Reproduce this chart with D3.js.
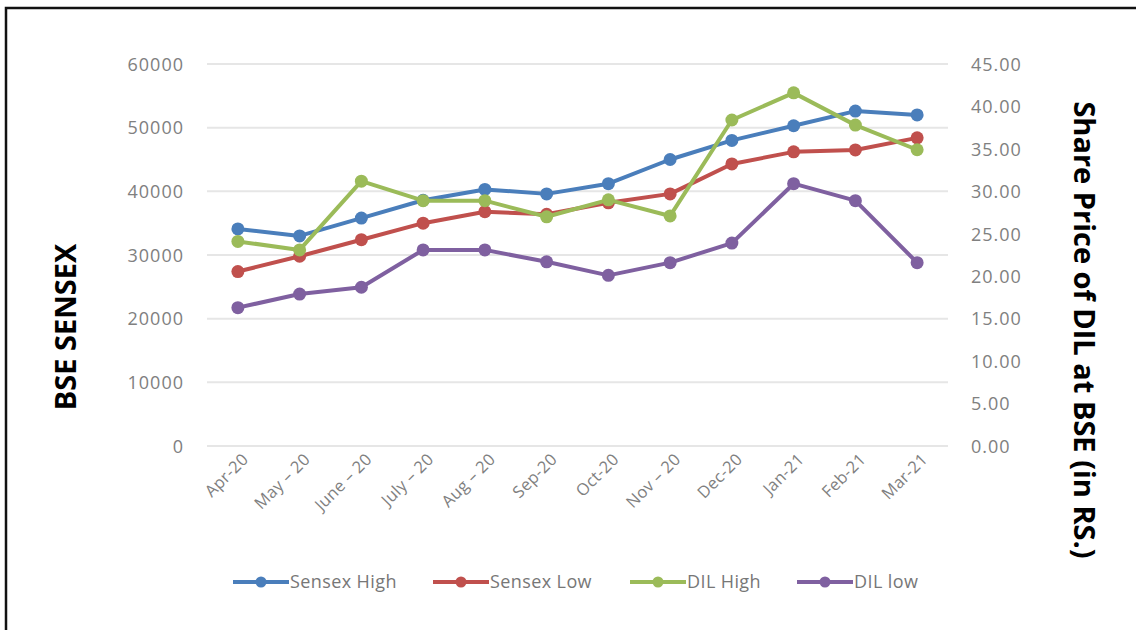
<!DOCTYPE html>
<html><head><meta charset="utf-8">
<script src="https://cdn.jsdelivr.net/npm/d3@7"></script>
<style>
html,body{margin:0;padding:0;background:#fff;}
svg{display:block;}
</style></head>
<body>
<svg id="chart" width="1136" height="630"></svg>
<script>
const months = ["Apr-20","May – 20","June – 20","July – 20","Aug – 20","Sep-20","Oct-20","Nov – 20","Dec-20","Jan-21","Feb-21","Mar-21"];
const sensexHigh = [34100,33000,35800,38600,40300,39600,41200,45000,48000,50300,52600,52000];
const sensexLow  = [27400,29800,32400,35000,36800,36400,38200,39600,44300,46200,46500,48400];
const dilHigh    = [24.1,23.1,31.2,28.9,28.9,27.0,29.0,27.1,38.4,41.6,37.8,34.9];
const dilLow     = [16.3,17.9,18.7,23.1,23.1,21.7,20.1,21.6,23.9,30.9,28.9,21.6];
const leftTicks  = [0,10000,20000,30000,40000,50000,60000];
const rightTicks = [0,5,10,15,20,25,30,35,40,45];
const seriesNames = ["Sensex High","Sensex Low","DIL High","DIL low"];
const colors = ["#4A7EBB","#C0504D","#9BBB59","#7F60A0"];

const svg = d3.select("#chart");
const m = {left:207, right:948, top:64, bottom:446};
const x = d3.scaleBand().domain(months).range([m.left, m.right]);
const yL = d3.scaleLinear().domain([0,60000]).range([m.bottom, m.top]);
const yR = d3.scaleLinear().domain([0,45]).range([m.bottom, m.top]);

// frame
svg.append("path").attr("d","M6,640 L6,8 L1140,8").attr("fill","none").attr("stroke","#111").attr("stroke-width",2.5);

const fontTick = "'Open Sans', sans-serif";
// gridlines
svg.append("g").selectAll("line").data(leftTicks).join("line")
  .attr("x1",m.left).attr("x2",m.right)
  .attr("y1",d=>yL(d)).attr("y2",d=>yL(d))
  .attr("stroke","#e6e6e6").attr("stroke-width",2);

// left axis
const gL = svg.append("g").attr("transform",`translate(${m.left-20},0)`)
  .call(d3.axisLeft(yL).tickValues(leftTicks).tickSize(0).tickFormat(d3.format("d")));
gL.select(".domain").remove();
gL.selectAll("text").attr("fill","#808080").style("font-family",fontTick).style("font-size","18px").style("letter-spacing","1px").attr("dy","0.35em");

// right axis
const gR = svg.append("g").attr("transform",`translate(${m.right+20},0)`)
  .call(d3.axisRight(yR).tickValues(rightTicks).tickSize(0).tickFormat(d3.format(".2f")));
gR.select(".domain").remove();
gR.selectAll("text").attr("fill","#808080").style("font-family",fontTick).style("font-size","18px").style("letter-spacing","1px").attr("dy","0.35em");

// x axis
const gX = svg.append("g").attr("transform",`translate(0,${m.bottom+10})`)
  .call(d3.axisBottom(x).tickSize(0));
gX.select(".domain").remove();
gX.selectAll("text").attr("fill","#808080").style("font-family",fontTick).style("font-size","16.5px").style("letter-spacing","0.3px")
  .attr("text-anchor","end").attr("dx","0.3em").attr("dy","0.5em")
  .attr("transform","rotate(-45)");

// series
const series = [
  {vals:sensexHigh, y:yL},
  {vals:sensexLow, y:yL},
  {vals:dilHigh, y:yR},
  {vals:dilLow, y:yR}
];
series.forEach((s,i)=>{
  const line = d3.line().x((d,j)=>x(months[j])+x.bandwidth()/2).y(d=>s.y(d));
  const g = svg.append("g");
  g.append("path").attr("d",line(s.vals)).attr("fill","none").attr("stroke",colors[i]).attr("stroke-width",4).attr("stroke-linejoin","round");
  g.selectAll("circle").data(s.vals).join("circle")
    .attr("cx",(d,j)=>x(months[j])+x.bandwidth()/2).attr("cy",d=>s.y(d)).attr("r",6.5).attr("fill",colors[i]);
});

// legend
const legX = [233,433,630,797];
const lg = svg.append("g");
seriesNames.forEach((n,i)=>{
  const g = lg.append("g").attr("transform",`translate(${legX[i]},582)`);
  g.append("line").attr("x1",0).attr("x2",56).attr("stroke",colors[i]).attr("stroke-width",4);
  g.append("circle").attr("cx",28).attr("r",5.5).attr("fill",colors[i]);
  g.append("text").attr("x",57).attr("dy","0.35em").text(n)
    .attr("fill","#777").style("font-family",fontTick).style("font-size","18px").style("letter-spacing","0.4px");
});

// axis titles
svg.append("text").attr("transform","translate(66,327) rotate(-90)").attr("text-anchor","middle").attr("dy","0.36em")
  .style("font-family","'Open Sans', sans-serif").style("font-weight","bold").style("font-size","29px").attr("fill","#000")
  .text("BSE SENSEX");
svg.append("text").attr("transform","translate(1084,330) rotate(90)").attr("text-anchor","middle").attr("dy","0.36em")
  .style("font-family","'Open Sans', sans-serif").style("font-weight","bold").style("font-size","29px").attr("fill","#000")
  .text("Share Price of DIL at BSE (in RS.)");
</script>
</body></html>
